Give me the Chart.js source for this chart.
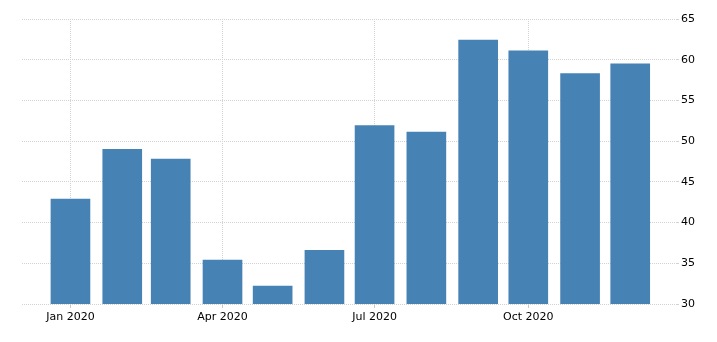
<!DOCTYPE html>
<html>
<head>
<meta charset="utf-8">
<script src="https://cdn.jsdelivr.net/npm/chart.js@4/dist/chart.umd.min.js"></script>
<style>
html,body{margin:0;padding:0;background:#fff;}
#wrap{width:717px;height:342px;position:relative;}
</style>
</head>
<body>
<div id="wrap"><canvas id="c" width="717" height="342"></canvas></div>
<script>
const months = ["2020-01-01","2020-02-01","2020-03-01","2020-04-01","2020-05-01","2020-06-01","2020-07-01","2020-08-01","2020-09-01","2020-10-01","2020-11-01","2020-12-01"];
const values = [42.9, 49.0, 47.8, 35.4, 32.2, 36.6, 51.9, 51.1, 62.4, 61.1, 58.3, 59.5];
const tickDates = ["2020-01-01","2020-04-01","2020-07-01","2020-10-01"];
const tickLabels = ["Jan 2020","Apr 2020","Jul 2020","Oct 2020"];
const yTicks = [30,35,40,45,50,55,60,65];

const DAY = 86400000;
const base = Date.UTC(2020,0,1);
const dayOf = s => Math.round((Date.parse(s + "T00:00:00Z") - base) / DAY);
const points = months.map((m,i) => ({x: dayOf(m), y: values[i]}));
const tickDays = tickDates.map(dayOf);

const font = {family: "DejaVu Sans", size: 11};

new Chart(document.getElementById('c'), {
  type: 'bar',
  data: {
    datasets: [{
      data: points,
      backgroundColor: '#4682b4',
      borderWidth: 0,
      barThickness: 39
    }]
  },
  options: {
    responsive: false,
    animation: false,
    layout: {padding: {left: 22, top: 19, right: 0, bottom: 0}},
    plugins: {legend: {display: false}, tooltip: {enabled: false}},
    scales: {
      x: {
        type: 'linear',
        min: -29,
        max: 363,
        offset: false,
        afterBuildTicks: (s) => { s.ticks = tickDays.map(v => ({value: v})); },
        ticks: {
          autoSkip: false,
          maxRotation: 0,
          color: '#000',
          font: font,
          padding: 3,
          callback: (v) => { const i = tickDays.indexOf(v); return i >= 0 ? tickLabels[i] : ''; }
        },
        grid: {
          offset: false,
          color: '#d2d2d2',
          tickColor: '#c8c8c8',
          tickLength: 4,
          drawOnChartArea: true
        },
        border: {display: false, dash: [1,1]},
        afterFit: (s) => { s.height = 38; }
      },
      y: {
        position: 'right',
        min: 30,
        max: 65,
        afterBuildTicks: (s) => { s.ticks = yTicks.map(v => ({value: v})); },
        ticks: {
          color: '#000',
          font: font,
          padding: 2,
          callback: (v) => String(v)
        },
        grid: {
          color: '#d2d2d2',
          drawTicks: true,
          tickLength: 2,
          tickColor: '#d2d2d2'
        },
        border: {display: false, dash: [1,1]},
        afterFit: (s) => { s.width = 40; }
      }
    }
  }
});
</script>
</body>
</html>
